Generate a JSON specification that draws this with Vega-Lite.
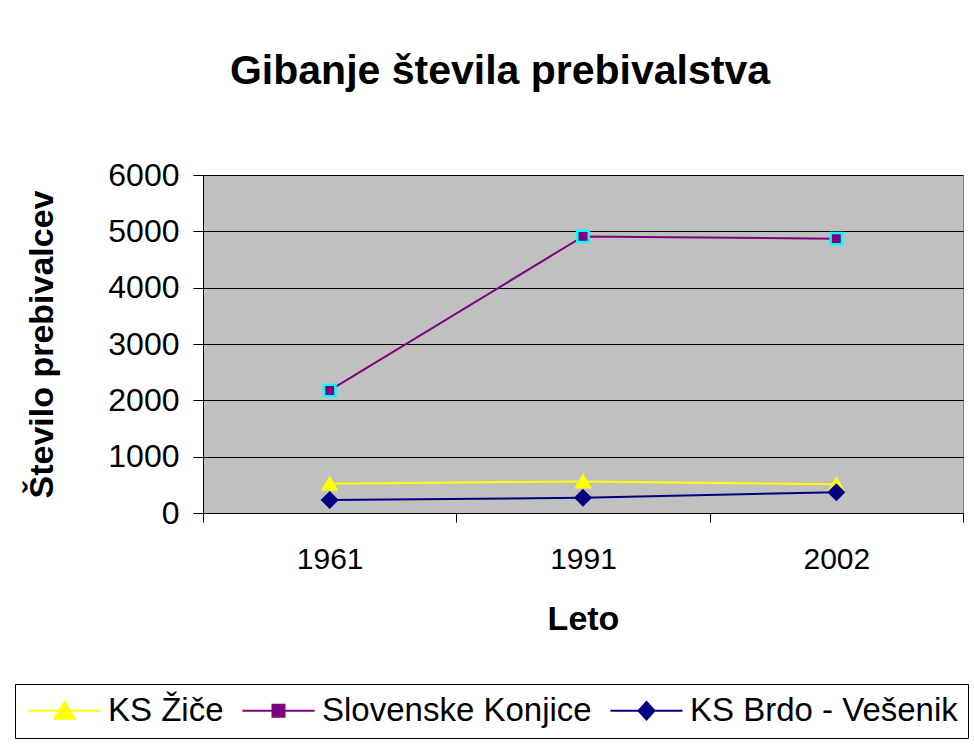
{
  "$schema": "https://vega.github.io/schema/vega-lite/v6.json",
  "width": 760,
  "height": 338,
  "autosize": {"type": "none"},
  "padding": {"left": 203, "top": 175, "right": 11, "bottom": 232},
  "background": "white",
  "title": {
    "text": "Gibanje števila prebivalstva",
    "font": "Liberation Sans",
    "fontSize": 41,
    "fontWeight": "bold",
    "color": "black",
    "anchor": "middle",
    "frame": "group",
    "dx": -83,
    "offset": 66
  },
  "data": {
    "values": [
      {"serija": "KS Žiče", "leto": "1961", "prebivalci": 520},
      {"serija": "KS Žiče", "leto": "1991", "prebivalci": 560},
      {"serija": "KS Žiče", "leto": "2002", "prebivalci": 510},
      {"serija": "Slovenske Konjice", "leto": "1961", "prebivalci": 2175},
      {"serija": "Slovenske Konjice", "leto": "1991", "prebivalci": 4910},
      {"serija": "Slovenske Konjice", "leto": "2002", "prebivalci": 4870},
      {"serija": "KS Brdo - Vešenik", "leto": "1961", "prebivalci": 230},
      {"serija": "KS Brdo - Vešenik", "leto": "1991", "prebivalci": 270},
      {"serija": "KS Brdo - Vešenik", "leto": "2002", "prebivalci": 370}
    ]
  },
  "encoding": {
    "x": {
      "field": "leto",
      "type": "ordinal",
      "scale": {"type": "band", "paddingInner": 0, "paddingOuter": 0},
      "axis": {
        "title": "Leto",
        "labelAngle": 0,
        "tickBand": "extent",
        "tickSize": 9,
        "tickColor": "black",
        "domainColor": "black",
        "grid": false,
        "labelFont": "Liberation Sans",
        "labelFontSize": 30,
        "labelColor": "black",
        "labelPadding": 22,
        "titleFont": "Liberation Sans",
        "titleFontSize": 34,
        "titleFontWeight": "bold",
        "titleColor": "black",
        "titlePadding": 28
      }
    },
    "y": {
      "field": "prebivalci",
      "type": "quantitative",
      "scale": {"domain": [0, 6000], "nice": false},
      "axis": {
        "title": "Število prebivalcev",
        "values": [0, 1000, 2000, 3000, 4000, 5000, 6000],
        "format": "d",
        "labelFont": "Liberation Sans",
        "labelFontSize": 32,
        "labelColor": "black",
        "labelPadding": 14,
        "tickSize": 10,
        "tickColor": "black",
        "domainColor": "black",
        "grid": true,
        "gridColor": "black",
        "gridWidth": 1,
        "gridOpacity": 1,
        "titleFont": "Liberation Sans",
        "titleFontSize": 34,
        "titleFontWeight": "bold",
        "titleColor": "black",
        "titlePadding": 48
      }
    }
  },
  "layer": [
    {
      "mark": {"type": "line", "strokeWidth": 2},
      "encoding": {
        "color": {
          "field": "serija",
          "type": "nominal",
          "scale": {
            "domain": ["KS Žiče", "Slovenske Konjice", "KS Brdo - Vešenik"],
            "range": ["#FFFF00", "#800080", "#000080"]
          },
          "legend": {
            "orient": "none",
            "legendX": -188,
            "legendY": 509,
            "direction": "horizontal",
            "columns": 3,
            "title": null,
            "strokeColor": "black",
            "fillColor": "white",
            "padding": 10,
            "cornerRadius": 0,
            "labelFont": "Liberation Sans",
            "labelFontSize": 33,
            "labelColor": "black",
            "labelLimit": 400,
            "labelOffset": 27,
            "symbolSize": 256,
            "symbolStrokeWidth": 2,
            "symbolOffset": 23,
            "columnPadding": 14,
            "encode": {
              "symbols": {
                "update": {
                  "shape": {"signal": "datum.value === 'KS Žiče' ? 'M-4.5,0L4.5,0M0,-1.1L1.25,1L-1.25,1Z' : datum.value === 'Slovenske Konjice' ? 'M-4.5,0L4.5,0M-0.75,-0.75L0.75,-0.75L0.75,0.75L-0.75,0.75Z' : 'M-4.5,0L4.5,0M0,-1.1L1,0L0,1.1L-1,0Z'"},
                  "fill": {"signal": "datum.value === 'KS Žiče' ? '#FFFF00' : datum.value === 'Slovenske Konjice' ? '#800080' : '#000080'"},
                  "stroke": {"signal": "datum.value === 'KS Žiče' ? '#FFFF00' : datum.value === 'Slovenske Konjice' ? '#800080' : '#000080'"},
                  "strokeWidth": {"value": 2},
                  "strokeOpacity": {"value": 1},
                  "opacity": {"value": 1},
                  "fillOpacity": {"value": 1}
                }
              }
            }
          }
        }
      }
    },
    {
      "transform": [{"filter": {"field": "serija", "equal": "KS Žiče"}}],
      "mark": {"type": "point", "shape": "triangle-up", "filled": true, "opacity": 1, "fill": "#FFFF00", "stroke": "#FFFF00", "strokeWidth": 2, "size": 200}
    },
    {
      "transform": [{"filter": {"field": "serija", "equal": "Slovenske Konjice"}}],
      "mark": {"type": "point", "shape": "square", "filled": true, "opacity": 1, "fill": "#800080", "stroke": "#00FFFF", "strokeWidth": 2.5, "size": 130}
    },
    {
      "transform": [{"filter": {"field": "serija", "equal": "KS Brdo - Vešenik"}}],
      "mark": {"type": "point", "shape": "diamond", "filled": true, "opacity": 1, "fill": "#000080", "stroke": "#000080", "strokeWidth": 2, "size": 230}
    }
  ],
  "config": {
    "view": {"fill": "#C0C0C0", "stroke": "#808080", "strokeWidth": 1}
  }
}
